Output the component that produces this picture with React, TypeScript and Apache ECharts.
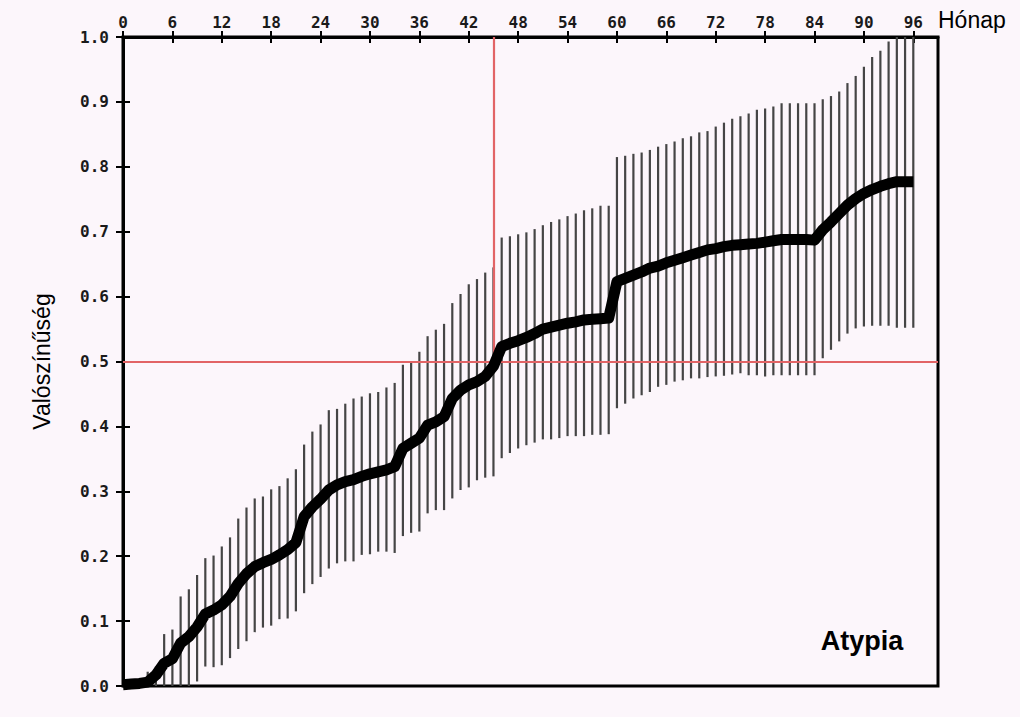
import React, { useEffect, useRef } from 'react';
import * as echarts from 'echarts';

// Months of follow-up (x) and estimated cumulative probability (black curve)
const months = [
  0, 1, 2, 3, 4, 5, 6, 7, 8, 9, 10, 11, 12, 13, 14, 15, 16, 17, 18, 19, 20,
  21, 22, 23, 24, 25, 26, 27, 28, 29, 30, 31, 32, 33, 34, 35, 36, 37, 38, 39, 40,
  41, 42, 43, 44, 45, 46, 47, 48, 49, 50, 51, 52, 53, 54, 55, 56, 57, 58, 59, 60,
  61, 62, 63, 64, 65, 66, 67, 68, 69, 70, 71, 72, 73, 74, 75, 76, 77, 78, 79, 80,
  81, 82, 83, 84, 85, 86, 87, 88, 89, 90, 91, 92, 93, 94, 95, 96,
];
const probability = [
  0.002, 0.003, 0.004, 0.006, 0.017, 0.035, 0.042, 0.066, 0.076, 0.091, 0.111,
  0.117, 0.125, 0.138, 0.158, 0.173, 0.184, 0.19, 0.195, 0.202, 0.21,
  0.221, 0.261, 0.276, 0.288, 0.302, 0.31, 0.315, 0.318, 0.323, 0.327,
  0.33, 0.333, 0.338, 0.366, 0.374, 0.382, 0.402, 0.407, 0.415, 0.443,
  0.456, 0.464, 0.469, 0.477, 0.493, 0.523, 0.528, 0.532, 0.537, 0.543,
  0.55, 0.553, 0.556, 0.559, 0.561, 0.564, 0.565, 0.566, 0.567, 0.623,
  0.628, 0.633, 0.638, 0.644, 0.647, 0.652, 0.656, 0.66, 0.664, 0.668,
  0.672, 0.674, 0.677, 0.679, 0.68, 0.681, 0.682, 0.684, 0.686, 0.688,
  0.688, 0.688, 0.688, 0.687, 0.703, 0.715, 0.728, 0.741, 0.751, 0.759,
  0.765, 0.77, 0.774, 0.777, 0.777, 0.777,
];

// Confidence interval bars
const barMonths = [
  3, 4, 5, 6, 7, 8, 9, 10, 11, 12, 13, 14, 15, 16, 17, 18, 19, 20,
  21, 22, 23, 24, 25, 26, 27, 28, 29, 30, 31, 32, 33, 34, 35, 36, 37, 38, 39, 40,
  41, 42, 43, 44, 45, 46, 47, 48, 49, 50, 51, 52, 53, 54, 55, 56, 57, 58, 59, 60,
  61, 62, 63, 64, 65, 66, 67, 68, 69, 70, 71, 72, 73, 74, 75, 76, 77, 78, 79, 80,
  81, 82, 83, 84, 85, 86, 87, 88, 89, 90, 91, 92, 93, 94, 95, 96,
];
const lower = [
  0, 0, 0, 0, 0, 0, 0.007, 0.03, 0.029, 0.032, 0.043, 0.057, 0.069, 0.083, 0.09, 0.093, 0.103, 0.104,
  0.115, 0.143, 0.157, 0.168, 0.181, 0.189, 0.192, 0.192, 0.202, 0.203, 0.207, 0.207, 0.205, 0.231, 0.236, 0.238, 0.266, 0.271, 0.271, 0.289,
  0.302, 0.306, 0.317, 0.321, 0.323, 0.351, 0.359, 0.366, 0.371, 0.375, 0.38, 0.38, 0.382, 0.385, 0.385, 0.385, 0.387, 0.387, 0.388, 0.428,
  0.435, 0.443, 0.448, 0.453, 0.461, 0.464, 0.469, 0.471, 0.474, 0.474, 0.476, 0.477, 0.478, 0.48, 0.482, 0.479, 0.479, 0.477, 0.479, 0.479,
  0.479, 0.479, 0.479, 0.479, 0.505, 0.518, 0.531, 0.543, 0.551, 0.554, 0.555, 0.555, 0.555, 0.552, 0.552, 0.552,
];
const upper = [
  0.022, 0.03, 0.08, 0.087, 0.138, 0.149, 0.171, 0.197, 0.201, 0.215, 0.229, 0.258, 0.275, 0.289, 0.292, 0.303, 0.308, 0.32,
  0.334, 0.372, 0.392, 0.403, 0.425, 0.427, 0.435, 0.443, 0.446, 0.451, 0.453, 0.46, 0.467, 0.495, 0.499, 0.515, 0.539, 0.549, 0.558, 0.59,
  0.604, 0.619, 0.627, 0.637, 0.645, 0.691, 0.693, 0.696, 0.699, 0.704, 0.71, 0.715, 0.719, 0.724, 0.728, 0.733, 0.736, 0.74, 0.74, 0.815,
  0.817, 0.82, 0.822, 0.826, 0.831, 0.835, 0.839, 0.844, 0.847, 0.853, 0.855, 0.862, 0.868, 0.874, 0.878, 0.882, 0.888, 0.89, 0.893, 0.898,
  0.898, 0.898, 0.898, 0.898, 0.904, 0.909, 0.916, 0.929, 0.94, 0.954, 0.969, 0.979, 0.993, 1.0, 1.0, 1.0,
];

const xTicks = [0, 6, 12, 18, 24, 30, 36, 42, 48, 54, 60, 66, 72, 78, 84, 90, 96];
const yTicks = [0, 0.1, 0.2, 0.3, 0.4, 0.5, 0.6, 0.7, 0.8, 0.9, 1.0];
const refMonth = 45;
const refProb = 0.5;
const groupLabel = 'Atypia';

const BG = '#fcf6fb';
const MONO = "'DejaVu Sans Mono', monospace";
const SANS = "'Liberation Sans', Arial, sans-serif";

export default function App() {
  const ref = useRef<HTMLDivElement>(null);

  useEffect(() => {
    if (!ref.current) return;
    const chart = echarts.init(ref.current, null, { renderer: 'svg' });

    const tickLabelStyle = {
      fontFamily: MONO,
      fontWeight: 'bold' as const,
      fontSize: 16,
      color: '#1a1a1a',
    };

    const xBase = {
      type: 'value' as const,
      position: 'top' as const,
      min: 0,
      max: 99,
      interval: 6,
      splitLine: { show: false },
    };
    const yBase = {
      type: 'value' as const,
      position: 'left' as const,
      min: 0,
      max: 1,
      interval: 0.1,
      splitLine: { show: false },
    };

    const option: any = {
      animation: false,
      backgroundColor: BG,
      grid: {
        left: 123,
        top: 37,
        right: 82,
        bottom: 31,
        show: true,
        borderColor: '#000',
        borderWidth: 3,
        backgroundColor: 'transparent',
        outerBoundsMode: 'none',
      },
      xAxis: [
        {
          ...xBase,
          name: 'Hónap',
          nameLocation: 'end',
          nameGap: 0,
          nameTextStyle: {
            fontFamily: SANS,
            fontSize: 23,
            color: '#000',
            verticalAlign: 'bottom',
            padding: [0, 0, 6, 0],
          },
          axisLine: { show: true, onZero: false, lineStyle: { color: '#000', width: 3 } },
          axisTick: {
            show: true,
            inside: false,
            length: 6,
            customValues: xTicks,
            lineStyle: { color: '#000', width: 2 },
          },
          axisLabel: {
            show: true,
            margin: 7,
            customValues: xTicks,
            formatter: (v: number) => String(v),
            ...tickLabelStyle,
          },
        },
        {
          ...xBase,
          axisLine: { show: false, onZero: false },
          axisTick: {
            show: true,
            inside: true,
            length: 6,
            customValues: xTicks,
            lineStyle: { color: '#000', width: 2 },
          },
          axisLabel: { show: false },
        },
      ],
      yAxis: [
        {
          ...yBase,
          name: 'Valószínűség',
          nameLocation: 'middle',
          nameGap: 70,
          nameTextStyle: { fontFamily: SANS, fontSize: 23, color: '#000' },
          axisLine: { show: true, onZero: false, lineStyle: { color: '#000', width: 3 } },
          axisTick: {
            show: true,
            inside: false,
            length: 7,
            customValues: yTicks,
            lineStyle: { color: '#000', width: 2 },
          },
          axisLabel: {
            show: true,
            margin: 14,
            customValues: yTicks,
            formatter: (v: number) => v.toFixed(1),
            ...tickLabelStyle,
          },
        },
        {
          ...yBase,
          axisLine: { show: false, onZero: false },
          axisTick: {
            show: true,
            inside: true,
            length: 7,
            customValues: yTicks,
            lineStyle: { color: '#000', width: 2 },
          },
          axisLabel: { show: false },
        },
      ],
      graphic: [
        {
          type: 'text',
          x: 862,
          y: 641,
          z: 100,
          style: {
            text: groupLabel,
            fontFamily: SANS,
            fontWeight: 'bold',
            fontSize: 27,
            fill: '#000',
            textAlign: 'center',
            textVerticalAlign: 'middle',
          },
        },
      ],
      series: [
        {
          name: 'CI',
          type: 'custom',
          xAxisIndex: 0,
          yAxisIndex: 0,
          z: 2,
          silent: true,
          encode: { x: 0, y: [1, 2] },
          data: barMonths.map((m, i) => [m, lower[i], upper[i]]),
          renderItem: (params: any, api: any) => {
            const x = api.value(0);
            const p1 = api.coord([x, api.value(1)]);
            const p2 = api.coord([x, api.value(2)]);
            return {
              type: 'line',
              shape: { x1: p1[0], y1: p1[1], x2: p2[0], y2: p2[1] },
              style: { stroke: '#454545', lineWidth: 2.2 },
            };
          },
        },
        {
          name: 'ref',
          type: 'line',
          xAxisIndex: 0,
          yAxisIndex: 0,
          z: 3,
          data: [],
          markLine: {
            silent: true,
            symbol: 'none',
            label: { show: false },
            lineStyle: { color: '#e26466', width: 2.2, type: 'solid' },
            data: [
              { yAxis: refProb },
              [{ coord: [refMonth, refProb] }, { coord: [refMonth, 1] }],
            ],
          },
        },
        {
          name: groupLabel,
          type: 'line',
          xAxisIndex: 0,
          yAxisIndex: 0,
          z: 5,
          silent: true,
          symbol: 'none',
          showSymbol: false,
          lineStyle: { color: '#000', width: 11, cap: 'butt', join: 'round' },
          data: months.map((m, i) => [m, probability[i]]),
        },
      ],
    };

    chart.setOption(option);
    return () => chart.dispose();
  }, []);

  return (
    <div
      ref={ref}
      style={{ position: 'absolute', left: 0, top: 0, width: 1020, height: 717, background: BG }}
    />
  );
}
